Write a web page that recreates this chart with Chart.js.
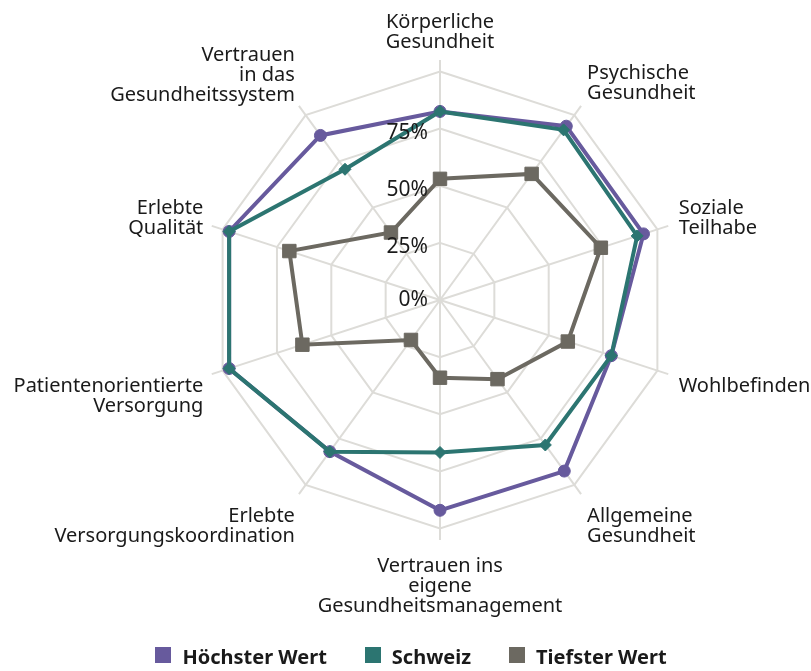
<!DOCTYPE html>
<html>
<head>
<meta charset="utf-8">
<script src="https://cdn.jsdelivr.net/npm/chart.js@4.4.0/dist/chart.umd.min.js"></script>
<style>
  html, body { margin: 0; padding: 0; background: #ffffff; }
  #wrap { width: 811px; height: 671px; position: relative; }
</style>
</head>
<body>
<div id="wrap"><canvas id="c" width="811" height="671"></canvas></div>
<script>
// ---- Data ----
const categories = [
  ['Körperliche', 'Gesundheit'],
  ['Psychische', 'Gesundheit'],
  ['Soziale', 'Teilhabe'],
  ['Wohlbefinden'],
  ['Allgemeine', 'Gesundheit'],
  ['Vertrauen ins', 'eigene', 'Gesundheitsmanagement'],
  ['Erlebte', 'Versorgungskoordination'],
  ['Patientenorientierte', 'Versorgung'],
  ['Erlebte', 'Qualität'],
  ['Vertrauen', 'in das', 'Gesundheitssystem']
];
const seriesNames = ['Höchster Wert', 'Schweiz', 'Tiefster Wert'];
const highest = [82.5, 94, 93.6, 78.8, 92.5, 92, 82, 97, 97, 89];
const schweiz = [82.5, 92, 90.7, 78.8, 78.4, 66.7, 82, 97, 97, 70.7];
const lowest  = [53, 68.2, 74, 58.8, 42.8, 34, 21.6, 63.3, 69.3, 36.5];
const gridValues = [0, 25, 50, 75, 100];
const tickValues = [0, 25, 50, 75];
const tickLabels = ['0%', '25%', '50%', '75%'];

// ---- Styles ----
const PURPLE = '#675a9d';
const TEAL = '#2c7571';
const GRAY = '#6c6961';
const GRID = '#dddcd8';
const TEXT = '#1a1a1a';
const FONT = '"Noto Sans", sans-serif';

const overlay = {
  id: 'overlay',
  afterDraw(chart) {
    const ctx = chart.ctx;
    const s = chart.scales.r;
    ctx.save();
    // radial tick labels
    ctx.font = '21px ' + FONT;
    ctx.fillStyle = TEXT;
    ctx.textAlign = 'right';
    ctx.textBaseline = 'middle';
    tickValues.forEach((v, i) => {
      const d = s.getDistanceFromCenterForValue(v);
      ctx.fillText(tickLabels[i], s.xCenter - 12, s.yCenter - d + (v > 0 ? 4 : 0));
    });
    // point labels
    ctx.font = '20px ' + FONT;
    const R = s.drawingArea + 12;
    const lh = 20, cap = 14;
    ctx.textBaseline = 'alphabetic';
    categories.forEach((lines, i) => {
      const p = s.getPointPosition(i, R);
      const a = s.getIndexAngle(i);
      const sin = Math.sin(a), cos = Math.cos(a);
      let x = p.x;
      if (Math.abs(sin) < 0.1) ctx.textAlign = 'center';
      else if (sin > 0) { ctx.textAlign = 'left'; x -= 1; }
      else { ctx.textAlign = 'right'; x += 3; }
      const h = (lines.length - 1) * lh + cap;
      let top;
      if (cos > 0.01) top = p.y - cos * h / 2 - h / 2;
      else top = p.y + Math.max(0, -cos - 0.3) * 8;
      lines.forEach((t, k) => ctx.fillText(t, x, top + cap + k * lh));
    });
    // legend
    const colors = [PURPLE, TEAL, GRAY];
    ctx.font = 'bold 20px ' + FONT;
    const box = 16, gap = 11, spacing = 38;
    const widths = seriesNames.map(n => box + gap + ctx.measureText(n).width);
    const total = widths.reduce((a, b) => a + b, 0) + spacing * (seriesNames.length - 1);
    let lx = 411 - total / 2;
    const ly = 655;
    ctx.textAlign = 'left';
    ctx.textBaseline = 'alphabetic';
    seriesNames.forEach((n, i) => {
      ctx.fillStyle = colors[i];
      ctx.fillRect(Math.round(lx), ly - 8, box, box);
      ctx.fillStyle = TEXT;
      ctx.fillText(n, lx + box + gap, ly + 9);
      lx += widths[i] + spacing;
    });
    ctx.restore();
  }
};

const mk = (label, data, color, style, radius, order) => ({
  label, data,
  borderColor: color, backgroundColor: color,
  borderWidth: 4, fill: false, tension: 0,
  pointStyle: style, pointRadius: radius, pointHoverRadius: radius,
  pointBackgroundColor: color, pointBorderColor: color, pointBorderWidth: 1,
  order
});

new Chart(document.getElementById('c'), {
  type: 'radar',
  data: {
    labels: categories,
    datasets: [
      mk(seriesNames[0], highest, PURPLE, 'circle', 6, 3),
      mk(seriesNames[1], schweiz, TEAL, 'rectRot', 6, 2),
      mk(seriesNames[2], lowest, GRAY, 'rect', 9.5, 1)
    ]
  },
  options: {
    responsive: false,
    animation: false,
    layout: { padding: { left: 200, right: 131, top: 60, bottom: 131 } },
    plugins: { legend: { display: false }, tooltip: { enabled: false } },
    scales: {
      r: {
        min: 0, max: 105,
        ticks: { display: false, stepSize: 25 },
        afterBuildTicks: (scale) => { scale.ticks = gridValues.map(v => ({ value: v })); },
        grid: { color: GRID, lineWidth: 2 },
        angleLines: { color: GRID, lineWidth: 2 },
        pointLabels: { display: false }
      }
    }
  },
  plugins: [overlay]
});
</script>
</body>
</html>
